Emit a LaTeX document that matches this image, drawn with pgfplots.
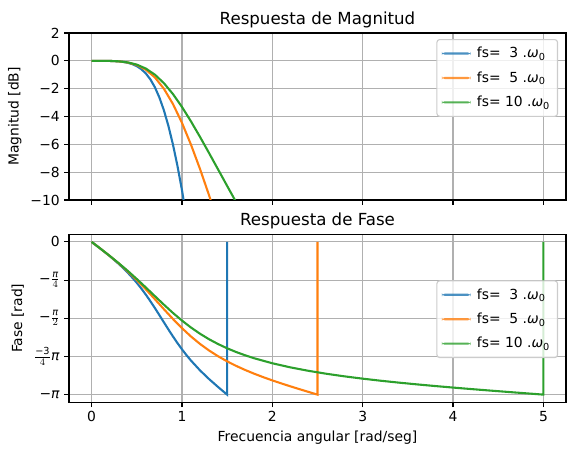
\documentclass[border=0pt]{standalone}
\usepackage{fontspec}
\setmainfont{DejaVu Sans}
\usepackage{amsmath}
\usepackage{pgfplots}
\pgfplotsset{compat=1.18}
\definecolor{c1}{HTML}{1F77B4}
\definecolor{c2}{HTML}{FF7F0E}
\definecolor{c3}{HTML}{2CA02C}
\definecolor{gridc}{HTML}{B0B0B0}
\pgfplotsset{
  legend image code/.code={\fill[#1, draw=none] (0pt,-0.85pt) rectangle (23pt,0.85pt);},
  mpl/.style={
    scale only axis, width=397.6pt,
    xmin=-0.25, xmax=5.25,
    xtick={0,1,2,3,4,5},
    grid=major, major grid style={color=gridc, line width=0.89pt},
    axis line style={line width=0.89pt},
    tick align=outside, tick pos=left,
    major tick length=3.9pt,
    major tick style={black, line width=0.89pt},
    tick label style={font=\fontsize{11.1}{13}\selectfont},
    label style={font=\fontsize{11.1}{13}\selectfont},
    title style={font=\fontsize{13.3}{16}\selectfont, at={(axis description cs:0.5,1)}, anchor=base, yshift=0.67pt},
    legend cell align=left,
    legend style={draw=black!20, fill=white, fill opacity=0.8, text opacity=1,
      rounded corners=2.2pt, line width=0.89pt, font=\fontsize{11.1}{13}\selectfont,
      anchor=north east, inner xsep=4pt, inner ysep=4.2pt, row sep=5.6pt,
      /tikz/every odd column/.append style={column sep=3pt}},
    every axis plot/.append style={line width=1.67pt},
  }
}
\begin{document}
\begin{tikzpicture}
\useasboundingbox (0,0) rectangle (459.2pt,364pt);
% ---------- Magnitude ----------
\begin{axis}[mpl,
  at={(55.2pt,204pt)}, anchor=south west, height=133.6pt,
  ymin=-10, ymax=2,
  ytick={-10,-8,-6,-4,-2,0,2},
  yticklabels={−10,−8,−6,−4,−2,0,2},
  xticklabels={},
  title={Respuesta de Magnitud},
  ylabel={Magnitud [dB]},
  ylabel style={at={(axis description cs:-0.109,0.5)}, anchor=center},
  legend style={at={(axis description cs:0.984,0.964)}},
]
\addplot[color=c1, line width=1.67pt] coordinates {
(0,0) (0.1,-0.0004) (0.2,-0.0074) (0.3,-0.0401) (0.35,-0.0777) (0.4,-0.1396)
(0.45,-0.2368) (0.5,-0.3838) (0.55,-0.5990) (0.6,-0.9051) (0.65,-1.3276)
(0.7,-1.8937) (0.75,-2.6282) (0.8,-3.5510) (0.85,-4.6743) (0.9,-6.0035)
(0.95,-7.5401) (1.0,-9.2859) (1.05,-11.25)
};
\addlegendentry{fs=~~3 .\textit{ω}\textsubscript{0}}
\addplot[color=c2, line width=1.67pt] coordinates {
(0,0) (0.1,-0.0004) (0.2,-0.0071) (0.3,-0.0367) (0.4,-0.1194) (0.5,-0.3000)
(0.6,-0.6359) (0.7,-1.1878) (0.8,-2.0032) (0.9,-3.0980) (1.0,-4.4526)
(1.1,-6.0262) (1.2,-7.7741) (1.3,-9.6618) (1.35,-10.6524)
};
\addlegendentry{fs=~~5 .\textit{ω}\textsubscript{0}}
\addplot[color=c3, line width=1.67pt] coordinates {
(0,0) (0.1,-0.0004) (0.2,-0.0070) (0.3,-0.0354) (0.4,-0.1121) (0.5,-0.2719)
(0.6,-0.5536) (0.7,-0.9908) (0.8,-1.6022) (0.9,-2.3840) (1.0,-3.3127)
(1.1,-4.3530) (1.2,-5.4687) (1.3,-6.6276) (1.4,-7.8058) (1.5,-8.9870)
(1.6,-10.1607)
};
\addlegendentry{fs= 10 .\textit{ω}\textsubscript{0}}
\end{axis}
% ---------- Phase ----------
\begin{axis}[mpl,
  at={(55.2pt,42.2pt)}, anchor=south west, height=134.4pt,
  ymin=-3.29867, ymax=0.15708,
  ytick={-3.14159,-2.35619,-1.5708,-0.785398,0},
  yticklabels={{−\textit{π}},{$\frac{\text{−3}}{4}$\textit{π}},{−$\frac{\text{\itshape π}}{2}$},{−$\frac{\text{\itshape π}}{4}$},{0}},
  xticklabels={0,1,2,3,4,5},
  title={Respuesta de Fase},
  ylabel={Fase [rad]},
  ylabel style={at={(axis description cs:-0.103,0.5)}, anchor=center},
  xlabel={Frecuencia angular [rad/seg]},
  xlabel style={at={(axis description cs:0.5,-0.208)}, anchor=center},
  legend style={at={(axis description cs:0.984,0.726)}},
]
\addplot[color=c1, line width=1.67pt] coordinates {
(0,0) (0.1,-0.1424) (0.2,-0.2909) (0.3,-0.4520) (0.35,-0.5396) (0.4,-0.6330)
(0.45,-0.7337) (0.5,-0.8420) (0.55,-0.9589) (0.6,-1.0845) (0.65,-1.2185)
(0.7,-1.3596) (0.75,-1.5056) (0.8,-1.6538) (0.85,-1.8009) (0.9,-1.9439)
(0.95,-2.0805) (1.0,-2.2092) (1.05,-2.3295) (1.1,-2.4415) (1.2,-2.6432)
(1.3,-2.8218) (1.4,-2.9853) (1.45,-3.0639) (1.49,-3.1261) (1.5,-3.1416) (1.5,0)
};
\addlegendentry{fs=~~3 .\textit{ω}\textsubscript{0}}
\addplot[color=c2, line width=1.67pt] coordinates {
(0,0) (0.1,-0.1421) (0.2,-0.2881) (0.3,-0.4418) (0.4,-0.6065) (0.5,-0.7845)
(0.6,-0.9760) (0.7,-1.1778) (0.8,-1.3836) (0.9,-1.5849) (1.0,-1.7741)
(1.1,-1.9461) (1.2,-2.0992) (1.3,-2.2340) (1.4,-2.3526) (1.5,-2.4574)
(1.6,-2.5509) (1.7,-2.6352) (1.8,-2.7120) (1.9,-2.7828) (2.0,-2.8490)
(2.1,-2.9115) (2.2,-2.9713) (2.3,-3.0291) (2.4,-3.0857) (2.45,-3.1137)
(2.5,-3.1416) (2.5,0)
};
\addlegendentry{fs=~~5 .\textit{ω}\textsubscript{0}}
\addplot[color=c3, line width=1.67pt] coordinates {
(0,0) (0.1,-0.1419) (0.2,-0.2869) (0.3,-0.4377) (0.4,-0.5961) (0.5,-0.7629)
(0.6,-0.9369) (0.7,-1.1146) (0.8,-1.2910) (0.9,-1.4605) (1.0,-1.6184)
(1.1,-1.7618) (1.2,-1.8896) (1.3,-2.0025) (1.4,-2.1016) (1.5,-2.1888)
(1.6,-2.2655) (1.7,-2.3334) (1.8,-2.3939) (2.0,-2.4967) (2.2,-2.5812)
(2.4,-2.6521) (2.6,-2.7129) (2.8,-2.7661) (3.0,-2.8134) (3.2,-2.8560)
(3.4,-2.8949) (3.6,-2.9310) (3.8,-2.9648) (4.0,-2.9967) (4.2,-3.0273)
(4.4,-3.0567) (4.6,-3.0854) (4.8,-3.1136) (4.9,-3.1276) (5.0,-3.1416) (5.0,0)
};
\addlegendentry{fs= 10 .\textit{ω}\textsubscript{0}}
\end{axis}
\end{tikzpicture}
\end{document}
